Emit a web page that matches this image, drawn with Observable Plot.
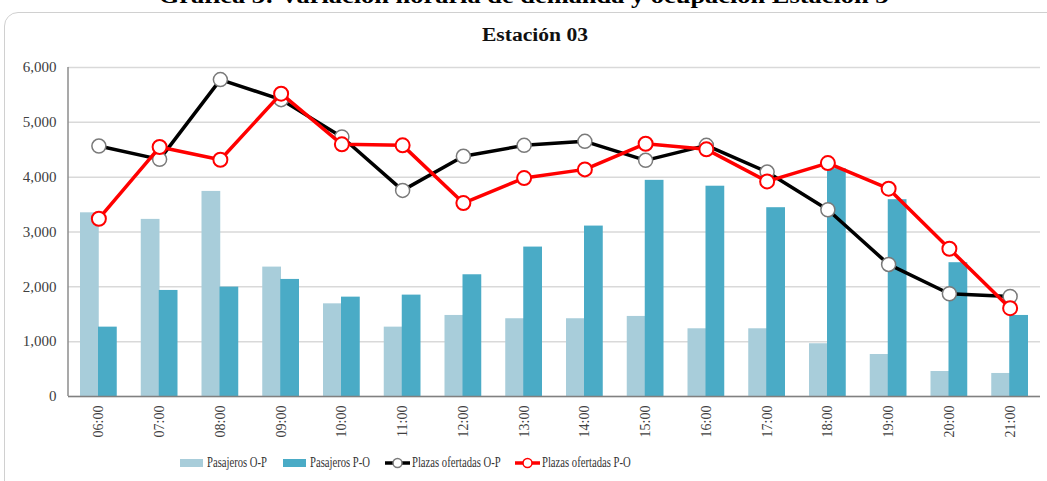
<!DOCTYPE html>
<html>
<head>
<meta charset="utf-8">
<script src="https://cdn.jsdelivr.net/npm/d3@7"></script>
<script src="https://cdn.jsdelivr.net/npm/@observablehq/plot@0.6"></script>
<style>
  html, body { margin: 0; padding: 0; background: #fff; width: 1047px; height: 481px; overflow: hidden; position: relative; }
  body { font-family: "Liberation Serif", "DejaVu Serif", serif; }
  #title { position: absolute; left: 0; width: 1047px; top: -16px; text-align: center; font-weight: bold; font-size: 22px; line-height: 24px; color: #000; transform: scaleX(1.2); transform-origin: 523px 0; }
  #card { position: absolute; left: 4px; top: 12px; width: 1080px; height: 520px; border: 1px solid #d0d0d0; border-radius: 14px; }
  #subtitle { position: absolute; left: 0; width: 1070px; top: 25px; text-align: center; font-weight: bold; font-size: 18px; line-height: 20px; color: #111; transform: scaleX(1.2); transform-origin: 535px 0; }
  #chart { position: absolute; left: 0; top: 55px; }
  #legend { position: absolute; left: 0; top: 455px; width: 1047px; height: 16px; font-size: 14px; color: #333; }
  .item { position: absolute; top: 0; display: flex; align-items: center; white-space: nowrap; }
  .item svg { margin-right: 2px; }
</style>
</head>
<body>
<div id="title">Gráfica 3: Variación horaria de demanda y ocupación Estación 3</div>
<div id="card"></div>
<div id="subtitle">Estación 03</div>
<div id="chart"></div>
<div id="legend"></div>
<script>
const hours = ["06:00","07:00","08:00","09:00","10:00","11:00","12:00","13:00","14:00","15:00","16:00","17:00","18:00","19:00","20:00","21:00"];
const pasajerosOP = [3350, 3230, 3740, 2360, 1690, 1265, 1478, 1418, 1418, 1460, 1235, 1235, 962, 766, 456, 420];
const pasajerosPO = [1265, 1934, 1995, 2135, 1812, 1849, 2220, 2725, 3108, 3942, 3835, 3443, 4155, 3589, 2440, 1478];
const plazasOP = [4567, 4325, 5779, 5414, 4732, 3759, 4380, 4580, 4653, 4307, 4580, 4093, 3406, 2409, 1874, 1825];
const plazasPO = [3242, 4550, 4318, 5523, 4599, 4580, 3528, 3984, 4142, 4610, 4507, 3923, 4257, 3790, 2695, 1611];
const yTicks = [0, 1000, 2000, 3000, 4000, 5000, 6000];
const seriesNames = ["Pasajeros O-P", "Pasajeros P-O", "Plazas ofertadas O-P", "Plazas ofertadas P-O"];

const colorLight = "#a8cdda";
const colorDark = "#4aabc6";
const colorBlack = "#000000";
const colorRed = "#ff0000";

const data = hours.map((h, i) => ({hour: h, op: pasajerosOP[i], po: pasajerosPO[i], plOP: plazasOP[i], plPO: plazasPO[i]}));

const leftAxisLine = (index, scales, values, dims) => {
  const g = d3.create("svg:g");
  g.append("line")
    .attr("x1", dims.marginLeft).attr("x2", dims.marginLeft)
    .attr("y1", scales.y(6000)).attr("y2", scales.y(0))
    .attr("stroke", "#8c8c8c").attr("stroke-width", 1.5);
  return g.node();
};

const chart = Plot.plot({
  width: 1047,
  height: 386,
  marginLeft: 68,
  marginRight: 7,
  marginTop: 12,
  marginBottom: 45,
  style: {fontFamily: "'Liberation Serif', serif", fontSize: "14px", color: "#404040", background: "transparent"},
  x: {domain: hours, padding: 0, round: false, label: null},
  y: {domain: [0, 6000], label: null},
  marks: [
    Plot.ruleY(yTicks, {stroke: "#d9d9d9", strokeWidth: 1.5}),
    Plot.barY(data, {x: "hour", y: "op", fill: colorLight, insetLeft: 21, insetRight: 21, dx: -9}),
    Plot.barY(data, {x: "hour", y: "po", fill: colorDark, insetLeft: 21, insetRight: 21, dx: 9}),
    Plot.ruleY([0], {stroke: "#808080", strokeWidth: 1.5}),
    leftAxisLine,
    Plot.axisY({ticks: yTicks, tickFormat: d3.format(","), tickSize: 0, tickPadding: 12, label: null, fontSize: 15}),
    Plot.axisX({tickRotate: -90, tickSize: 0, tickPadding: 9, label: null, fontSize: 14}),
    Plot.line(data, {x: "hour", y: "plOP", stroke: colorBlack, strokeWidth: 3.5}),
    Plot.dot(data, {x: "hour", y: "plOP", r: 7, fill: "white", stroke: "#7a7a7a", strokeWidth: 1.5}),
    Plot.line(data, {x: "hour", y: "plPO", stroke: colorRed, strokeWidth: 3.5}),
    Plot.dot(data, {x: "hour", y: "plPO", r: 7, fill: "white", stroke: colorRed, strokeWidth: 2})
  ]
});
document.getElementById("chart").appendChild(chart);

// Legend
const legend = d3.select("#legend");
const items = [
  {name: seriesNames[0], type: "rect", color: colorLight, left: 180},
  {name: seriesNames[1], type: "rect", color: colorDark, left: 283},
  {name: seriesNames[2], type: "line", color: colorBlack, dot: "#7a7a7a", left: 385},
  {name: seriesNames[3], type: "line", color: colorRed, dot: colorRed, left: 515}
];
items.forEach(it => {
  const d = legend.append("div").attr("class", "item").style("left", it.left + "px");
  const s = d.append("svg").attr("width", 25).attr("height", 16);
  if (it.type === "rect") {
    s.append("rect").attr("x", 0).attr("y", 4).attr("width", 23).attr("height", 8).attr("fill", it.color);
  } else {
    s.append("line").attr("x1", 0).attr("x2", 25).attr("y1", 8).attr("y2", 8).attr("stroke", it.color).attr("stroke-width", 3.5);
    s.append("circle").attr("cx", 12.5).attr("cy", 8).attr("r", 4.5).attr("fill", "white").attr("stroke", it.dot).attr("stroke-width", 1.5);
  }
  d.append("span").text(it.name).style("display", "inline-block").style("transform-origin", "left center").style("transform", "scaleX(0.76)");
});
</script>
</body>
</html>
